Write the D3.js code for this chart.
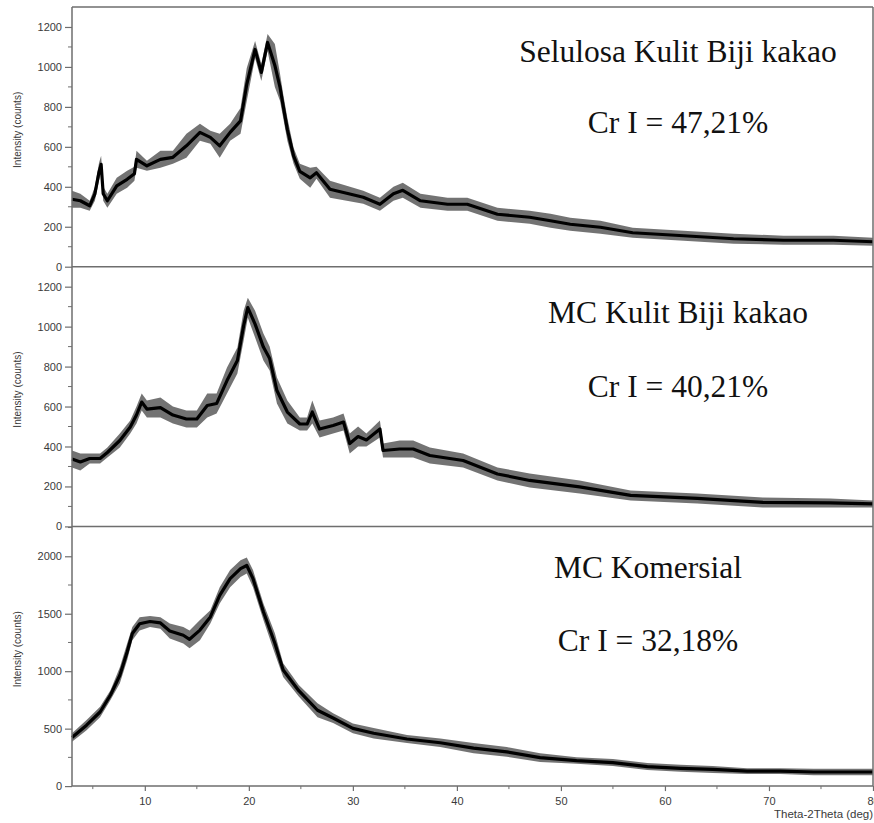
<!DOCTYPE html>
<html>
<head>
<meta charset="utf-8">
<script src="https://cdn.jsdelivr.net/npm/d3@7"></script>
<style>
  html, body { margin: 0; padding: 0; background: #fff; overflow: hidden; }
</style>
</head>
<body>
<div id="chart-container"></div>
<script>
// data: [2theta, low edge, high edge] of the noisy trace
let selulosaKulit = [
  [3.0, 295, 380], [3.8, 295, 365], [4.7, 280, 330], [5.2, 330, 400], [5.6, 430, 520],
  [5.8, 470, 555], [6.0, 330, 400], [6.4, 295, 365], [7.3, 365, 445], [8.3, 395, 480],
  [9.0, 430, 500], [9.2, 495, 580], [10.2, 480, 530], [11.5, 495, 580], [12.7, 515, 580],
  [14.0, 545, 665], [15.3, 630, 715], [16.3, 615, 680], [17.2, 545, 665], [18.2, 630, 715],
  [19.2, 665, 795], [19.8, 830, 995], [20.6, 1045, 1130], [21.2, 930, 1015], [21.8, 1080, 1165],
  [22.5, 900, 1115], [23.0, 830, 965], [23.3, 745, 865], [23.7, 630, 745], [24.3, 515, 595],
  [24.9, 440, 515], [25.9, 395, 495], [26.5, 440, 500], [27.8, 345, 430], [29.4, 330, 405],
  [31.0, 315, 380], [32.6, 280, 345], [33.9, 330, 400], [34.8, 345, 420], [36.5, 295, 365],
  [39.1, 280, 345], [41.0, 280, 345], [43.9, 230, 295], [47.0, 215, 280], [49.0, 195, 265],
  [50.9, 180, 245], [53.8, 165, 230], [56.9, 145, 195], [61.8, 130, 180], [66.6, 115, 165],
  [71.4, 110, 155], [76.2, 110, 155], [80.0, 105, 145]
];
let mcKulit = [
  [3.0, 295, 380], [3.8, 280, 365], [4.7, 315, 365], [5.7, 315, 365], [6.4, 345, 395],
  [7.6, 395, 465], [8.6, 465, 530], [9.2, 515, 600], [9.7, 580, 665], [10.2, 545, 630],
  [11.5, 545, 645], [12.7, 515, 600], [14.0, 495, 580], [15.0, 495, 580], [16.0, 545, 665],
  [16.9, 565, 665], [17.9, 665, 795], [18.9, 765, 895], [19.5, 930, 1080], [19.9, 1045, 1145],
  [20.6, 945, 1080], [21.4, 830, 965], [22.0, 780, 900], [22.7, 615, 745], [23.7, 515, 630],
  [24.9, 480, 545], [25.6, 480, 545], [26.1, 515, 630], [26.8, 445, 530], [28.1, 465, 545],
  [29.1, 480, 565], [29.7, 365, 465], [30.5, 400, 500], [31.3, 400, 465], [32.6, 445, 530],
  [32.9, 345, 415], [34.5, 345, 430], [35.8, 345, 430], [37.4, 315, 395], [40.6, 295, 365],
  [43.9, 230, 295], [47.0, 195, 265], [51.8, 165, 230], [56.7, 130, 180], [63.1, 115, 165],
  [69.4, 95, 145], [75.9, 95, 140], [80.0, 95, 130]
];
let mcKomersial = [
  [3.0, 385, 460], [4.4, 485, 575], [5.7, 600, 690], [6.7, 750, 835], [7.6, 895, 1035],
  [8.3, 1095, 1240], [8.8, 1270, 1385], [9.5, 1355, 1470], [10.5, 1385, 1480], [11.5, 1370, 1470],
  [12.4, 1285, 1415], [13.7, 1240, 1385], [14.3, 1200, 1355], [15.3, 1270, 1445], [16.3, 1415, 1530],
  [17.2, 1590, 1730], [18.2, 1730, 1880], [19.2, 1820, 1965], [19.8, 1850, 1990], [20.4, 1730, 1880],
  [21.4, 1445, 1590], [22.5, 1155, 1330], [23.3, 950, 1070], [24.8, 780, 880], [26.6, 600, 720],
  [28.1, 550, 635], [30.0, 460, 545], [32.0, 415, 505], [35.2, 375, 445], [38.4, 340, 415],
  [41.6, 285, 375], [44.8, 255, 340], [48.0, 210, 285], [51.5, 195, 250], [55.0, 175, 235],
  [58.3, 140, 200], [61.5, 125, 185], [64.6, 115, 175], [67.9, 105, 155], [71.1, 105, 155],
  [74.3, 95, 150], [80.0, 95, 150]
];

let sampleNames = ["Selulosa Kulit Biji kakao", "MC Kulit Biji kakao", "MC Komersial"];
let crystIndex = ["Cr I = 47,21%", "Cr I = 40,21%", "Cr I = 32,18%"];
let yMax = [1300, 1300, 2260];
let yTicks = [[0, 200, 400, 600, 800, 1000, 1200], [0, 200, 400, 600, 800, 1000, 1200], [0, 500, 1000, 1500, 2000]];
let yMinorStep = [100, 100, 250];
let xTicks = [10, 20, 30, 40, 50, 60, 70, 80];
let xMinorTicks = [5, 15, 25, 35, 45, 55, 65, 75];
let xLabel = "Theta-2Theta (deg)";
let yLabel = "Intensity (counts)";

// vars
let w = 874, h = 823;
let plotLeft = 72, plotRight = 873, plotTop = 7;
let panelH = 259.7;
let axisColor = "#6e6e6e";
let tickFont = "'Liberation Sans', Arial, sans-serif";
let annoFont = "'Liberation Serif', 'Times New Roman', serif";
let labelPos = [[678, 62, 133], [678, 323, 397], [648, 578, 651]];

let series = [selulosaKulit, mcKulit, mcKomersial];

createChart();

/**
 * Draw the three stacked XRD panels.
 */
function createChart() {
  let svg = d3.select("#chart-container")
    .append("svg")
    .attr("width", w)
    .attr("height", h)
    .attr("viewBox", "0 0 " + w + " " + h);

  let x = d3.scaleLinear().domain([3, 80]).range([plotLeft, plotRight]);

  for (let i = 0; i < 3; i++) {
    let y0 = plotTop + i * panelH;
    let y1 = plotTop + (i + 1) * panelH;
    let y = d3.scaleLinear().domain([0, yMax[i]]).range([y1, y0]);
    let g = svg.append("g").attr("class", "panel");

    // noise envelope (fringe) + dense core of the trace
    let area = d3.area()
      .x(d => x(d[0]))
      .y0(d => y(d[1]))
      .y1(d => y(d[2]));
    g.append("path")
      .datum(series[i])
      .attr("d", area)
      .attr("fill", "#000")
      .attr("fill-opacity", 0.55)
      .attr("stroke", "none");
    let core = d3.line()
      .x(d => x(d[0]))
      .y(d => y((d[1] + d[2]) / 2));
    g.append("path")
      .datum(series[i])
      .attr("d", core)
      .attr("fill", "none")
      .attr("stroke", "#000")
      .attr("stroke-width", 3.2)
      .attr("stroke-linejoin", "round");

    // y axis
    let yAxis = d3.axisLeft(y)
      .tickValues(yTicks[i])
      .tickSize(7)
      .tickPadding(3)
      .tickFormat(d3.format("d"));
    let ya = g.append("g")
      .attr("transform", "translate(" + plotLeft + ",0)")
      .call(yAxis);
    ya.select(".domain").remove();
    ya.selectAll("line").attr("stroke", axisColor).attr("stroke-width", 1.2);
    ya.selectAll("text")
      .style("font-family", tickFont)
      .style("font-size", "11px")
      .style("fill", "#3a3a3a");

    // minor y ticks
    let minor = d3.range(yMinorStep[i], yMax[i], yMinorStep[i] * 2);
    g.append("g").selectAll("line").data(minor).join("line")
      .attr("x1", plotLeft - 4)
      .attr("x2", plotLeft)
      .attr("y1", d => y(d))
      .attr("y2", d => y(d))
      .attr("stroke", axisColor)
      .attr("stroke-width", 1);

    // y label
    g.append("text")
      .attr("transform", "translate(21," + ((y0 + y1) / 2 - 7) + ") rotate(-90)")
      .text(yLabel)
      .style("text-anchor", "middle")
      .style("font-family", tickFont)
      .style("font-size", "10px")
      .style("fill", "#3a3a3a");

    // bottom line of panel
    g.append("line")
      .attr("x1", plotLeft).attr("x2", plotRight)
      .attr("y1", y1).attr("y2", y1)
      .attr("stroke", axisColor)
      .attr("stroke-width", 1.5);

    // annotations
    g.append("text")
      .attr("x", labelPos[i][0])
      .attr("y", labelPos[i][1])
      .text(sampleNames[i])
      .style("text-anchor", "middle")
      .style("font-family", annoFont)
      .style("font-size", "31.5px")
      .style("fill", "#111");
    g.append("text")
      .attr("x", labelPos[i][0])
      .attr("y", labelPos[i][2])
      .text(crystIndex[i])
      .style("text-anchor", "middle")
      .style("font-family", annoFont)
      .style("font-size", "31.5px")
      .style("fill", "#111");

    // x axis on the bottom panel only
    if (i == 2) {
      let xAxis = d3.axisBottom(x)
        .tickValues(xTicks)
        .tickSize(5)
        .tickPadding(6)
        .tickFormat(d3.format("d"));
      let xa = g.append("g")
        .attr("transform", "translate(0," + y1 + ")")
        .call(xAxis);
      xa.select(".domain").remove();
      xa.selectAll("line").attr("stroke", axisColor).attr("stroke-width", 1.2);
      xa.selectAll("text")
        .style("font-family", tickFont)
        .style("font-size", "11px")
        .style("fill", "#3a3a3a");
      g.append("g").selectAll("line").data(xMinorTicks).join("line")
        .attr("x1", d => x(d))
        .attr("x2", d => x(d))
        .attr("y1", y1)
        .attr("y2", y1 + 3)
        .attr("stroke", axisColor)
        .attr("stroke-width", 1);
      g.append("text")
        .attr("x", 774)
        .attr("y", y1 + 32)
        .text(xLabel)
        .style("font-family", tickFont)
        .style("font-size", "11.5px")
        .style("fill", "#3a3a3a");
    }
  }

  // frame: left, top and right borders
  let frame = svg.append("g");
  frame.append("line")
    .attr("x1", plotLeft).attr("x2", plotLeft)
    .attr("y1", plotTop).attr("y2", plotTop + 3 * panelH)
    .attr("stroke", axisColor).attr("stroke-width", 1.5);
  frame.append("line")
    .attr("x1", plotLeft).attr("x2", plotRight)
    .attr("y1", plotTop).attr("y2", plotTop)
    .attr("stroke", axisColor).attr("stroke-width", 1.5);
  frame.append("line")
    .attr("x1", plotRight).attr("x2", plotRight)
    .attr("y1", plotTop).attr("y2", plotTop + 3 * panelH)
    .attr("stroke", axisColor).attr("stroke-width", 1.5);
}
</script>
</body>
</html>
